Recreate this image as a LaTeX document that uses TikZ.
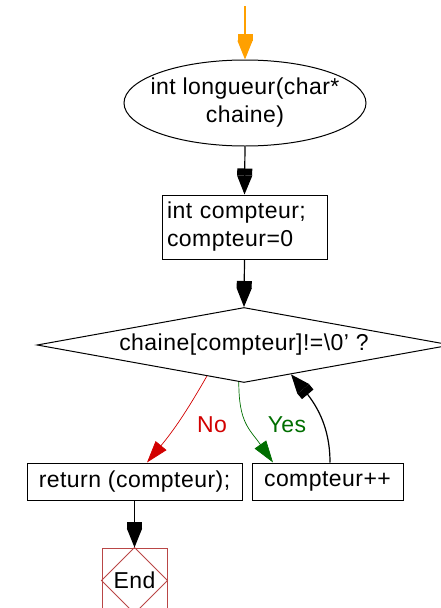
\documentclass[tikz,border=0pt]{standalone}
\usepackage{fontspec}
\setmainfont{Liberation Sans}[LetterSpace=2]
\usetikzlibrary{shapes.geometric,arrows.meta,calc}

\definecolor{startorange}{RGB}{255,160,0}
\definecolor{nored}{RGB}{210,0,0}
\definecolor{yesgreen}{RGB}{0,110,0}
\definecolor{endred}{RGB}{185,70,70}

\begin{document}
\begin{tikzpicture}[x=1pt, y=-1pt,
    font=\fontsize{23}{28}\selectfont,
    flow/.style={-{Rectangle[length=7pt,width=15pt,sep=0pt]Triangle[length=19pt,width=15pt]}, line width=1.2pt},
    branch/.style={-{Triangle[length=22pt,width=14pt]}, line width=0.7pt},
    stmt/.style={draw, line width=1pt, rectangle, inner sep=0pt}]
    \clip (0,0) rectangle (441,608);
    \useasboundingbox (0,0) rectangle (441,608);

    % Start
    \coordinate (entry) at (245,6);
    \node[draw, ellipse, line width=1pt, minimum width=242pt, minimum height=86pt,
          inner xsep=-12pt, inner ysep=0pt, align=center] (fn) at (245,103)
        {int longueur(char*\\chaine)};

    % Initialisation
    \node[stmt, minimum width=165pt, minimum height=64pt, inner xsep=5pt,
          text width=155pt, align=left] (init) at (244.5,227)
        {int compteur;\\compteur=0};

    % Test
    \node[draw, diamond, line width=1pt, aspect=5.52, minimum width=414pt,
          minimum height=75pt, inner sep=0pt] (cond) at (244,345)
        {chaine[compteur]!=\textbackslash 0' ?};

    % Branches
    \node[stmt, minimum width=215pt, minimum height=37pt] (ret) at (134.5,481.5)
        {return (compteur);};
    \node[stmt, minimum width=151pt, minimum height=37pt] (inc) at (327.5,481.5)
        {compteur++};

    % End
    \node[draw=endred, line width=1pt, minimum width=65pt, minimum height=65pt,
          inner sep=0pt] (fin) at (134.5,580.5) {End};
    \draw[endred, line width=0.8pt]
    (fin.north) -- (fin.east) -- (fin.south) -- (fin.west) -- cycle;

    % Arrows
    \draw[flow, startorange] (entry) -- (fn.north);
    \draw[flow] (fn.south) -- (init.north);
    \draw[flow] (init.south) -- (cond.north);
    \draw[branch, nored] (cond.220) to[bend left=5] ($(ret.north)+(12.5,0)$);
    \draw[branch, yesgreen] (cond.262) to[out=-90, in=125, looseness=1.2]
    ($(inc.north)+(-54.5,0)$);
    \draw[flow] ($(inc.north)+(2.5,0)$) to[out=90, in=-50] (cond.328);
    \draw[flow] (ret.south) -- (fin.north);

    % Labels
    \node[text=nored] (nolabel) at (212,425) {No};
    \node[text=yesgreen] (yeslabel) at (287,425) {Yes};
\end{tikzpicture}
\end{document}
